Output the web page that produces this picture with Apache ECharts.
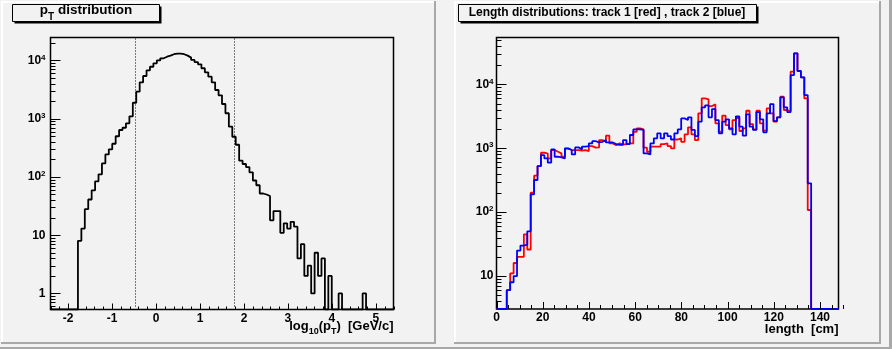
<!DOCTYPE html>
<html>
<head>
<meta charset="utf-8">
<script src="https://cdn.jsdelivr.net/npm/echarts@6/dist/echarts.min.js"></script>
<style>
  html, body { margin: 0; padding: 0; background: #f2f2f2; }
  #chart { width: 892px; height: 349px; }
</style>
</head>
<body>
<div id="chart"></div>
<script>
// ---- histogram binning ----
const ptBinLow = -2.4;
const ptBinWidth = 0.078;          // 100 bins over [-2.4, 5.4]
const lenBinLow = 0;
const lenBinWidth = 1.48;          // 100 bins over [0, 148]

// ---- log10(pT) distribution, counts per bin ----
const ptCounts = [
  0, 0, 0, 0, 0, 0, 0, 0, 8, 13,
  28, 41, 59, 84, 111, 171, 244, 298, 372, 500,
  640, 700, 832, 1100, 1880, 2910, 4220, 5410, 6770, 7810,
  8920, 10000, 10900, 11600, 12100, 12800, 13100, 13100, 12800, 12100,
  11200, 10200, 9400, 8600, 7350, 6270, 5270, 4220, 3110, 2520,
  1790, 1240, 730, 490, 357, 190, 167, 148, 120, 87,
  72, 52, 50, 47, 18, 26, 26, 11, 16, 13,
  17, 14, 4, 7, 2, 3, 1, 5, 2, 4,
  0, 2, 0, 0, 1, 0, 0, 0, 0, 0,
  0, 1, 0, 0, 0, 0, 0, 0, 0, 0
];

// ---- track length distributions, counts per bin ----
const track1Counts = [
  0, 0, 0, 6, 11, 16, 20, 20, 45, 26,
  201, 372, 525, 850, 820, 693, 937, 882, 830, 736,
  982, 937, 937, 937, 914, 937, 903, 1080, 1020, 1030,
  1340, 1260, 1570, 1190, 1120, 1190, 1150, 1150, 1190, 1190,
  1810, 2050, 1970, 1020, 880, 1060, 1060, 1060, 1160, 1190,
  1080, 995, 1370, 1430, 1260, 1650, 2120, 1650, 1340, 3510,
  6020, 5810, 4570, 4850, 2450, 1810, 3230, 2300, 1970, 2760,
  2970, 1860, 2050, 3860, 2390, 1970, 3860, 2450, 1880, 4200,
  3510, 2600, 3040, 6400, 3960, 3820, 15750, 30480, 16140, 12840,
  6020, 108, 0, 0, 0, 0, 0, 0, 0, 0
];
const track2Counts = [
  0, 0, 0, 6, 8, 10, 25, 30, 31, 50,
  190, 318, 525, 782, 693, 593, 959, 736, 719, 693,
  995, 937, 801, 1030, 959, 1060, 1080, 1190, 1290, 1230,
  1260, 1340, 1230, 1230, 1160, 1130, 1130, 1340, 1160, 1610,
  1970, 1970, 1930, 830, 800, 1190, 1430, 1710, 1430, 1710,
  1550, 1370, 1710, 1970, 2930, 2760, 3040, 1930, 1550, 2600,
  4360, 4690, 3040, 4100, 2760, 1710, 2600, 2830, 2050, 1650,
  3150, 2170, 1570, 3390, 2170, 1930, 3680, 2830, 1770, 3510,
  4910, 2660, 3040, 6250, 4360, 3680, 13960, 30480, 16140, 12840,
  6790, 282, 0, 0, 0, 0, 0, 0, 0, 0
];

// ---- selection cuts on log10(pT) ----
const ptCutLines = [-0.483, 1.772];

// ---- axis ranges and tick values ----
const ptXRange = [-2.4, 5.4];
const ptYRange = [0.53, 24800];
const lenXRange = [0, 148];
const lenYRange = [3.05, 54000];

const ptXTicks = [-2, -1, 0, 1, 2, 3, 4, 5];
const ptXMinorStep = 0.2;
const lenXTicks = [0, 20, 40, 60, 80, 100, 120, 140];
const lenXMinorStep = 5;
const ptYTicks = [1, 10, 100, 1000, 10000];
const lenYTicks = [10, 100, 1000, 10000];
const decadeMultipliers = [2, 3, 4, 5, 6, 7, 8, 9];

const FONT = '"Liberation Sans", Arial, Helvetica, sans-serif';
const BG = '#f2f2f2';

// Outline of a histogram: one point at each low bin edge, plus the upper edge of the last bin.
// Empty bins sit on the bottom of the frame, as on a log scale.
function histOutline(counts, low, width, floor) {
  const pts = counts.map((c, i) => [low + i * width, c > 0 ? c : floor]);
  const last = counts[counts.length - 1];
  pts.push([low + counts.length * width, last > 0 ? last : floor]);
  return pts;
}

function minorLogTicks(range) {
  const out = [];
  for (let e = -1; e <= 5; e++) {
    decadeMultipliers.forEach(m => {
      const v = m * Math.pow(10, e);
      if (v > range[0] && v < range[1]) out.push(v);
    });
  }
  return out;
}

function minorLinTicks(range, step, majors) {
  const out = [];
  const n = Math.round((range[1] - range[0]) / step);
  for (let k = 0; k <= n; k++) {
    const v = +(range[0] + k * step).toFixed(6);
    if (!majors.some(t => Math.abs(t - v) < 1e-6)) out.push(v);
  }
  return out;
}

// Tick marks: [x, y, kind] with kind 0 = y major, 1 = y minor, 2 = x major, 3 = x minor
function tickItems(xr, yr, yMaj, yMin, xMaj, xMin) {
  const items = [];
  yMaj.forEach(v => items.push([xr[0], v, 0]));
  yMin.forEach(v => items.push([xr[0], v, 1]));
  xMaj.forEach(v => items.push([v, yr[0], 2]));
  xMin.forEach(v => items.push([v, yr[0], 3]));
  return items;
}

function tickRenderer(xMajLen, xMinLen) {
  return function (params, api) {
    const kind = api.value(2);
    const p = api.coord([api.value(0), api.value(1)]);
    let shape;
    if (kind < 2) {
      const len = kind === 0 ? 10 : 5;
      const y = Math.round(p[1]) + 0.5;
      shape = { x1: p[0], y1: y, x2: p[0] + len, y2: y };
    } else {
      const len = kind === 2 ? xMajLen : xMinLen;
      const x = Math.round(p[0]) + 0.5;
      shape = { x1: x, y1: p[1], x2: x, y2: p[1] - len };
    }
    return { type: 'line', shape: shape, style: { stroke: '#000', lineWidth: 1 } };
  };
}

// Dotted vertical line spanning the frame at a cut value
function cutRenderer(params, api) {
  const top = api.coord([api.value(0), api.value(2)]);
  const bottom = api.coord([api.value(0), api.value(1)]);
  const x = Math.round(top[0]) + 0.5;
  return {
    type: 'line',
    shape: { x1: x, y1: top[1] + 1, x2: x, y2: bottom[1] - 1 },
    style: { stroke: '#000', lineWidth: 1, lineDash: [1, 2] }
  };
}

function logLabel(v) {
  const e = Math.log10(v);
  const r = Math.round(e);
  if (Math.abs(e - r) > 1e-6) return '';
  if (r === 0) return '1';
  if (r === 1) return '10';
  return '{b|10}{s|' + r + '}';
}

const tickLabelStyle = { fontFamily: FONT, fontWeight: 'bold', fontSize: 12, color: '#000' };
const yRich = {
  b: { fontFamily: FONT, fontWeight: 'bold', fontSize: 12, color: '#000' },
  s: { fontFamily: FONT, fontWeight: 'bold', fontSize: 8, color: '#000', padding: [0, 0, 6, 0] }
};

function xAxisFor(grid, range, ticks, split) {
  return {
    gridIndex: grid, type: 'value', min: range[0], max: range[1], splitNumber: split,
    axisLine: { show: false }, axisTick: { show: false }, splitLine: { show: false },
    axisLabel: Object.assign({
      customValues: ticks, margin: 3, showMinLabel: true, showMaxLabel: true,
      formatter: v => (ticks.some(t => Math.abs(t - v) < 1e-6) ? String(v) : '')
    }, tickLabelStyle)
  };
}

function yAxisFor(grid, range, margin) {
  return {
    gridIndex: grid, type: 'log', logBase: 10, min: range[0], max: range[1],
    axisLine: { show: false }, axisTick: { show: false }, splitLine: { show: false }, minorTick: { show: false },
    axisLabel: Object.assign({ margin: margin, formatter: logLabel, rich: yRich }, tickLabelStyle)
  };
}

// Pad with a raised bevel: light on the top/left edges, shadow on the right/bottom edges
function padBevel(x0, y0, x1, y1) {
  return [
    { type: 'rect', silent: true, shape: { x: x0, y: y0, width: 2, height: y1 - y0 }, style: { fill: '#ffffff' } },
    { type: 'rect', silent: true, shape: { x: x0, y: y0, width: x1 - x0, height: 2 }, style: { fill: '#ffffff' } },
    { type: 'rect', silent: true, shape: { x: x1 - 2, y: y0, width: 2, height: y1 - y0 }, style: { fill: '#a8a8a8' } },
    { type: 'rect', silent: true, shape: { x: x0, y: y1 - 2, width: x1 - x0, height: 2 }, style: { fill: '#a8a8a8' } }
  ];
}

function titleBox(x, y, w, h) {
  return [
    { type: 'rect', silent: true, shape: { x: x + 2, y: y + 2, width: w, height: h }, style: { fill: '#000' } },
    { type: 'rect', silent: true, shape: { x: x, y: y, width: w, height: h }, style: { fill: BG, stroke: '#000', lineWidth: 1 } }
  ];
}

const graphics = [].concat(
  [
    { type: 'rect', silent: true, shape: { x: 889, y: 0, width: 3, height: 349 }, style: { fill: '#a8a8a8' } },
    { type: 'rect', silent: true, shape: { x: 0, y: 347, width: 892, height: 2 }, style: { fill: '#a8a8a8' } }
  ],
  padBevel(1, 1, 436, 344),
  padBevel(454, 1, 881, 344),
  titleBox(12.5, 4.5, 147, 17),
  titleBox(458.5, 4.5, 298, 17),
  [
    {
      type: 'text', silent: true, x: 86, y: 10,
      style: {
        text: '{m|p}{d|T}{m| distribution}', align: 'center', verticalAlign: 'middle',
        rich: {
          m: { fontFamily: FONT, fontWeight: 'bold', fontSize: 13.5, fill: '#000' },
          d: { fontFamily: FONT, fontWeight: 'bold', fontSize: 10, fill: '#000', padding: [14, 0, 0, 0] }
        }
      }
    },
    {
      type: 'text', silent: true, x: 607, y: 12.5,
      style: {
        text: 'Length distributions: track 1 [red] , track 2 [blue]', align: 'center', verticalAlign: 'middle',
        fontFamily: FONT, fontWeight: 'bold', fontSize: 12, fill: '#000'
      }
    },
    {
      type: 'text', silent: true, x: 393.5, y: 326,
      style: {
        text: '{m|log}{d|10}{m|(p}{d|T}{m|)  [GeV/c]}', align: 'right', verticalAlign: 'middle',
        rich: {
          m: { fontFamily: FONT, fontWeight: 'bold', fontSize: 13, fill: '#000' },
          d: { fontFamily: FONT, fontWeight: 'bold', fontSize: 9, fill: '#000', padding: [12, 0, 0, 0] }
        }
      }
    },
    {
      type: 'text', silent: true, x: 838.5, y: 329.5,
      style: {
        text: 'length  [cm]', align: 'right', verticalAlign: 'middle',
        fontFamily: FONT, fontWeight: 'bold', fontSize: 13, fill: '#000'
      }
    }
  ]
);

const chart = echarts.init(document.getElementById('chart'), null, { renderer: 'canvas' });

chart.setOption({
  backgroundColor: BG,
  animation: false,
  grid: [
    { left: 50.5, top: 37.5, width: 343, height: 272, show: true, borderColor: '#000', borderWidth: 1.5, backgroundColor: 'transparent' },
    { left: 496.5, top: 37.5, width: 342, height: 271.5, show: true, borderColor: '#000', borderWidth: 1.5, backgroundColor: 'transparent' }
  ],
  xAxis: [
    xAxisFor(0, ptXRange, ptXTicks, 8),
    xAxisFor(1, lenXRange, lenXTicks, 7)
  ],
  yAxis: [
    yAxisFor(0, ptYRange, 5),
    yAxisFor(1, lenYRange, 3)
  ],
  graphic: graphics,
  series: [
    {
      name: 'ptCuts', type: 'custom', xAxisIndex: 0, yAxisIndex: 0, z: 2, silent: true,
      dimensions: ['x', 'y0', 'y1'], encode: { x: 'x', y: ['y0', 'y1'] },
      renderItem: cutRenderer,
      data: ptCutLines.map(v => [v, ptYRange[0], ptYRange[1]])
    },
    {
      name: 'pT', type: 'line', xAxisIndex: 0, yAxisIndex: 0, step: 'end',
      symbol: 'none', clip: true, z: 3,
      lineStyle: { color: '#000', width: 1.8 },
      data: histOutline(ptCounts, ptBinLow, ptBinWidth, ptYRange[0])
    },
    {
      name: 'ptTicks', type: 'custom', xAxisIndex: 0, yAxisIndex: 0, z: 4, silent: true,
      dimensions: ['x', 'y', 'kind'], encode: { x: 'x', y: 'y' },
      renderItem: tickRenderer(6, 3),
      data: tickItems(ptXRange, ptYRange, ptYTicks, minorLogTicks(ptYRange), ptXTicks,
        minorLinTicks(ptXRange, ptXMinorStep, ptXTicks))
    },
    {
      name: 'track 1', type: 'line', xAxisIndex: 1, yAxisIndex: 1, step: 'end',
      symbol: 'none', clip: true, z: 3,
      lineStyle: { color: '#ff0000', width: 1.8 },
      data: histOutline(track1Counts, lenBinLow, lenBinWidth, lenYRange[0])
    },
    {
      name: 'track 2', type: 'line', xAxisIndex: 1, yAxisIndex: 1, step: 'end',
      symbol: 'none', clip: true, z: 3,
      lineStyle: { color: '#0000ff', width: 1.8 },
      data: histOutline(track2Counts, lenBinLow, lenBinWidth, lenYRange[0])
    },
    {
      name: 'lenTicks', type: 'custom', xAxisIndex: 1, yAxisIndex: 1, z: 4, silent: true,
      dimensions: ['x', 'y', 'kind'], encode: { x: 'x', y: 'y' },
      renderItem: tickRenderer(7, 4),
      data: tickItems(lenXRange, lenYRange, lenYTicks, minorLogTicks(lenYRange), lenXTicks,
        minorLinTicks(lenXRange, lenXMinorStep, lenXTicks))
    }
  ]
});
</script>
</body>
</html>
